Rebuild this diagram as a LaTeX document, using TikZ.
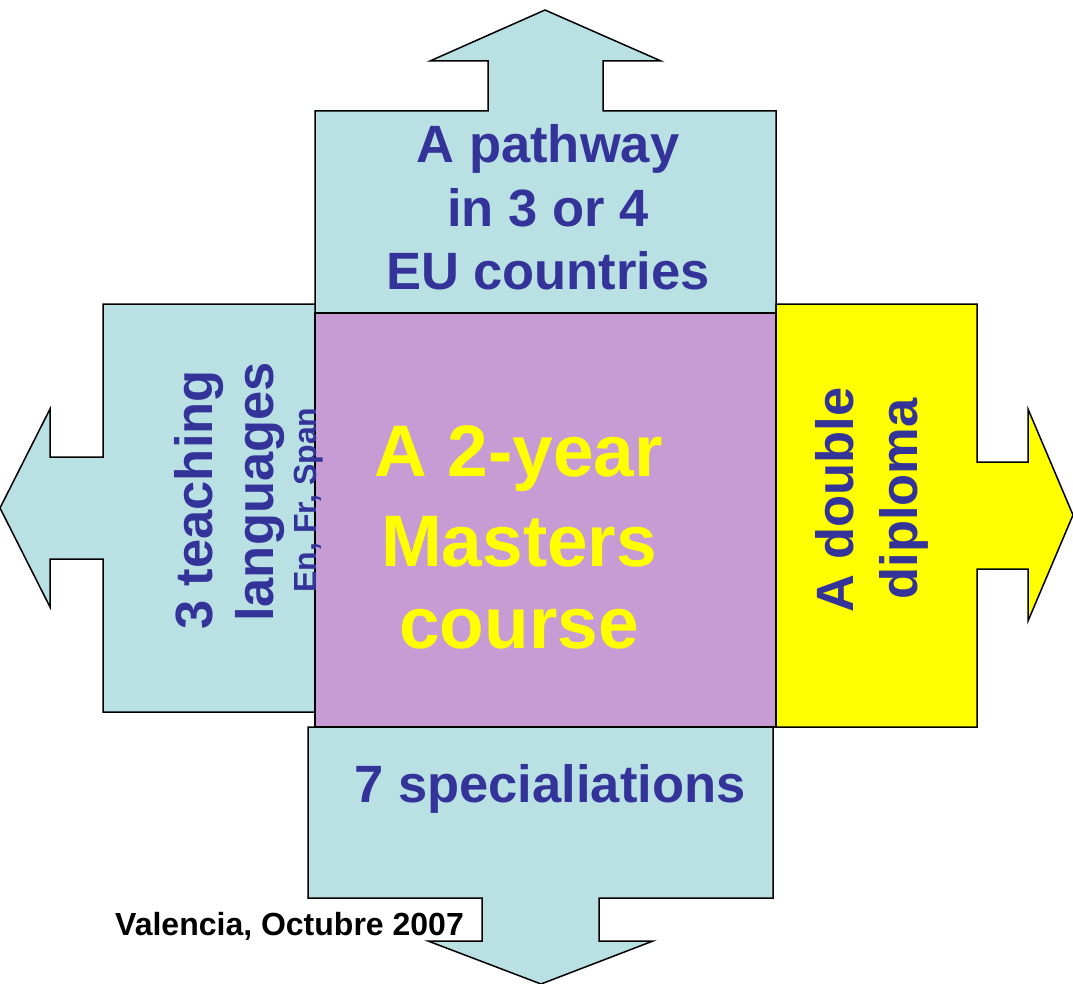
\documentclass[tikz,border=0pt]{standalone}
\usepackage{fontspec}
\setmainfont{Liberation Sans}
\definecolor{lightcyan}{RGB}{185,224,227}
\definecolor{mauve}{RGB}{199,156,212}
\definecolor{textblue}{RGB}{51,51,153}
\definecolor{brightyellow}{RGB}{255,255,0}
\tikzset{
  shapebox/.style={draw=black,line width=1.5pt,line join=miter},
  bigtext/.style={inner sep=0pt,anchor=base,text=textblue,font=\fontsize{52.5}{63}\selectfont\bfseries},
  midtext/.style={inner sep=0pt,anchor=base,text=brightyellow,font=\fontsize{73}{88}\selectfont\bfseries},
  smalltext/.style={inner sep=0pt,anchor=base,text=textblue,font=\fontsize{32}{38}\selectfont\bfseries},
  foottext/.style={inner sep=0pt,anchor=base west,text=black,font=\fontsize{32}{38}\selectfont\bfseries}
}
\begin{document}
\begin{tikzpicture}[x=1pt,y=-1pt]
\useasboundingbox (0,0) rectangle (1073,984);
% top arrow
\path[shapebox,fill=lightcyan] (315,313) -- (315,111) -- (488,111) -- (488,61) -- (430,61) -- (545,10) -- (661,61) -- (603,61) -- (603,111) -- (776,111) -- (776,313) -- cycle;
% left arrow
\path[shapebox,fill=lightcyan] (315,304) -- (103,304) -- (103,457) -- (50,457) -- (50,409) -- (0,508) -- (50,607) -- (50,559) -- (103,559) -- (103,712) -- (315,712) -- cycle;
% right arrow
\path[shapebox,fill=brightyellow] (776,304) -- (977,304) -- (977,462) -- (1028,462) -- (1028,409) -- (1073,515) -- (1028,621) -- (1028,569) -- (977,569) -- (977,727) -- (776,727) -- cycle;
% center
\path[shapebox,fill=mauve] (315,313) rectangle (776,727);
% bottom arrow
\path[shapebox,fill=lightcyan] (308,727) -- (773,727) -- (773,898) -- (599,898) -- (599,941) -- (653,941) -- (541,984) -- (428,941) -- (482,941) -- (482,898) -- (308,898) -- cycle;
% top text
\node[bigtext] (t1) at (548,163) {A pathway};
\node[bigtext] (t2) at (548,227) {in 3 or 4};
\node[bigtext] (t3) at (548,290) {EU countries};
% center text
\node[midtext] (c1) at (519,476) {A 2-year};
\node[midtext] (c2) at (519,566) {Masters};
\node[midtext] (c3) at (519,648) {course};
% left text
\node[bigtext,rotate=90] (l1) at (212,500) {3 teaching};
\node[bigtext,rotate=90] (l2) at (273,492) {languages};
\node[smalltext,rotate=90] (l3) at (316,500) {En, Fr, Span};
% right text
\node[bigtext,rotate=90] (r1) at (853,500) {A double};
\node[bigtext,rotate=90] (r2) at (917,499) {diploma};
% bottom text
\node[bigtext] (b1) at (550,802) {7 specialiations};
\node[foottext] (f1) at (115,935) {Valencia, Octubre 2007};
\end{tikzpicture}
\end{document}
